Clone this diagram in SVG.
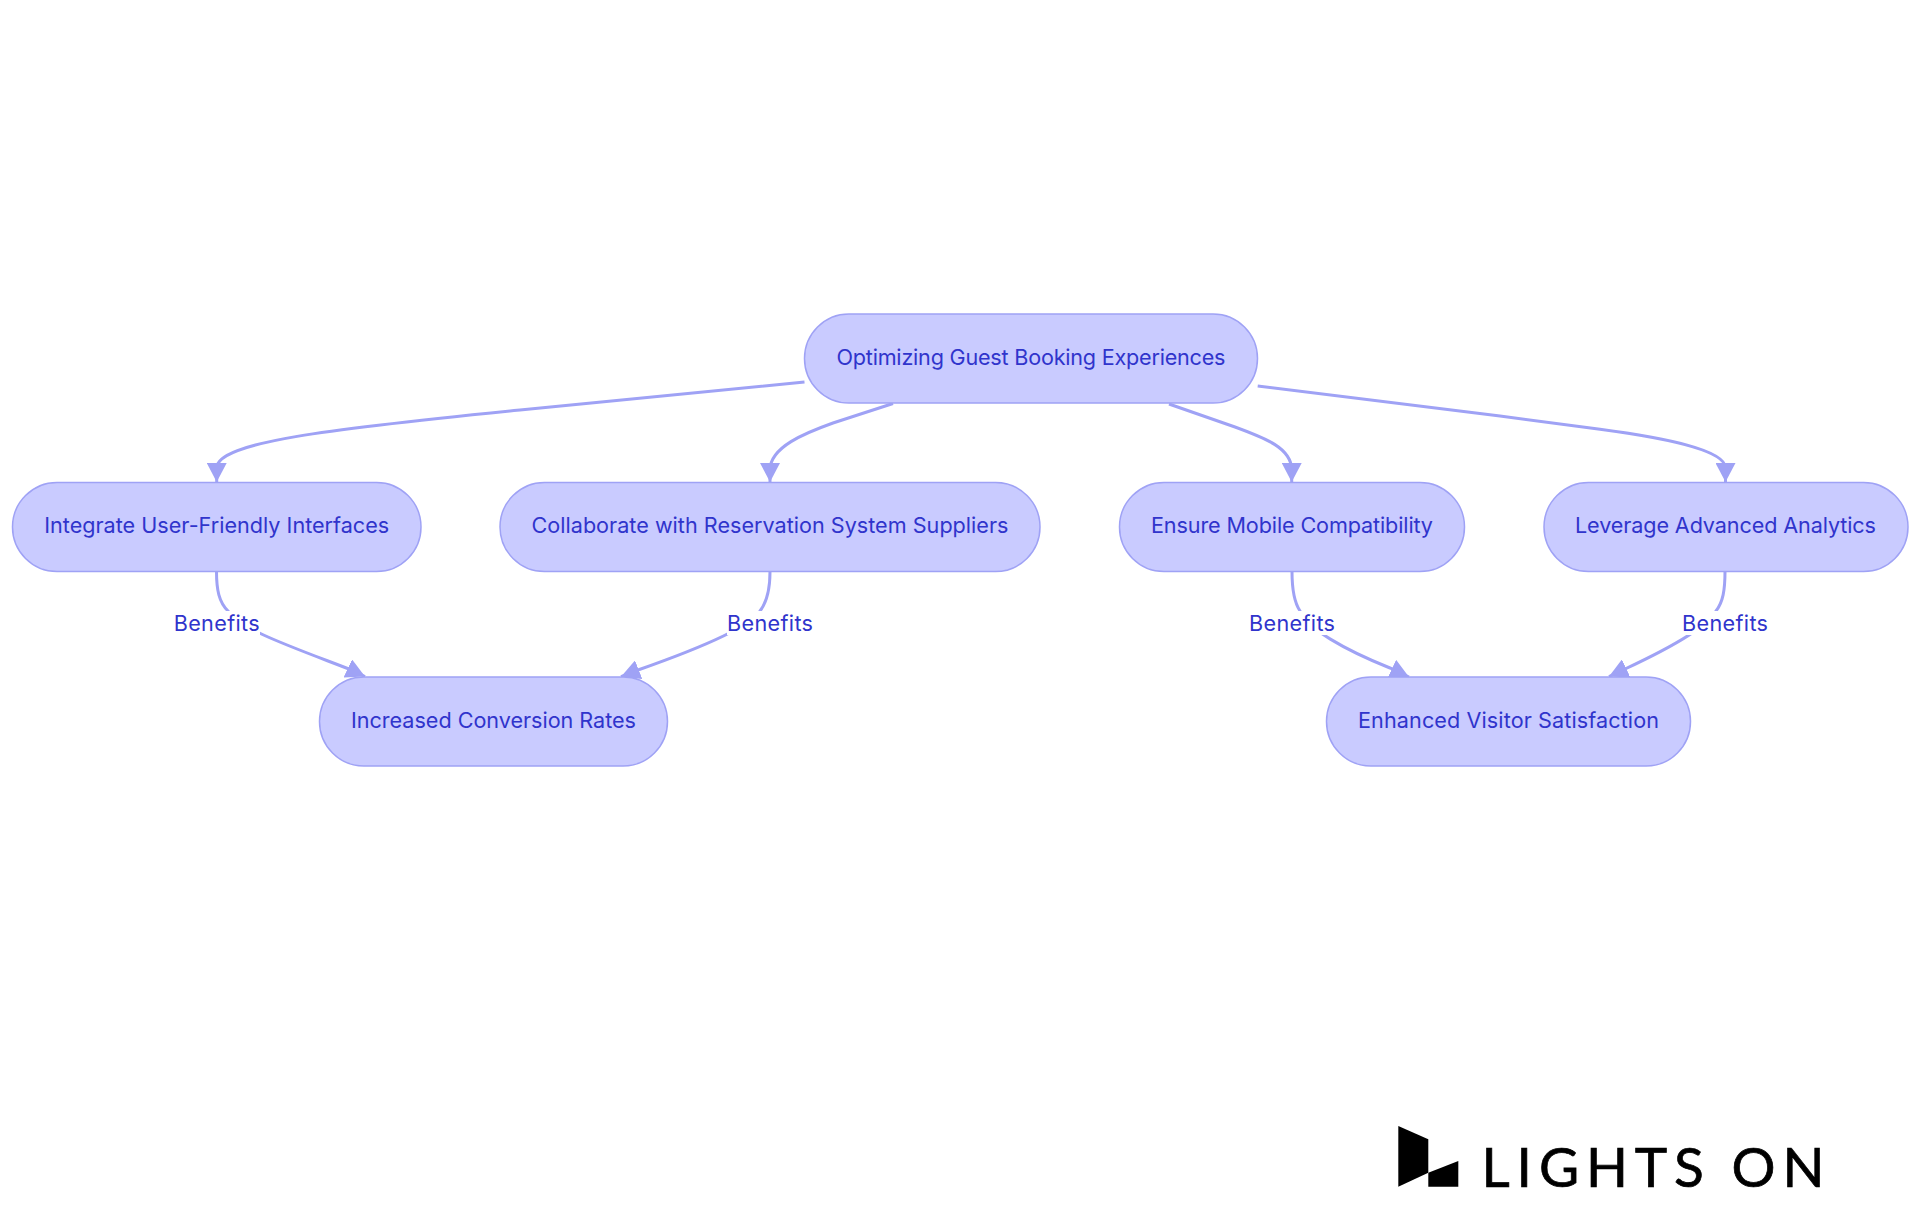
<svg xmlns="http://www.w3.org/2000/svg" width="1920" height="1215" viewBox="0 0 1920 1215">
<style>
.n{fill:#c9cbff;stroke:#9fa2f5;stroke-width:1.5}
.t{font-family:Inter,"Noto Sans",sans-serif;font-size:21.6px;fill:#3034cc;text-anchor:middle;dominant-baseline:central;font-weight:400}
.e{fill:none;stroke:#9fa2f5;stroke-width:3;marker-end:url(#a)}
.lb{fill:#fff}
</style>
<defs><marker id="a" markerUnits="userSpaceOnUse" markerWidth="19" markerHeight="20" refX="19" refY="10" orient="auto" viewBox="0 0 19 20"><path d="M0,0L19,10L0,20z" fill="#9fa2f5"/></marker></defs>
<rect width="1920" height="1215" fill="#fff"/>
<g id="connectors">
<path class="e" d="M804.5,382 L520,410 C330,429 216.7,442 216.7,468 L216.7,482"/>
<path class="e" d="M893,403.5 L833,423 C805,433 770,447 770,470 L770,482"/>
<path class="e" d="M1169,404 L1235,427 C1265,438 1291.7,448 1291.7,470 L1291.7,482"/>
<path class="e" d="M1257.7,386 L1500,416 L1600,429.3 C1665,438 1725.5,450 1725.5,468 L1725.5,482"/>
<path class="e" d="M216.5,571.5 C216.5,590 219,602 228,611 C236,628 300,650 349,669 L365,676.5"/>
<path class="e" d="M770,571.5 C770,590 767,602 760,611 C750,628 695,650 638,670 L621,676.7"/>
<path class="e" d="M1292,571.5 C1292,590 1294,602 1300,611 C1306,628 1345,650 1390,668 L1409,677"/>
<path class="e" d="M1725,571.5 C1725,590 1723,602 1716,611 C1708,627 1670,648 1625,669 L1609,676.5"/>
</g>
<g id="edge-labels">
<rect class="lb" x="174" y="611" width="86" height="24"/><text class="t" x="216.7" y="623" textLength="86">Benefits</text>
<rect class="lb" x="727" y="611" width="86" height="24"/><text class="t" x="770" y="623" textLength="86">Benefits</text>
<rect class="lb" x="1249" y="611" width="86" height="24"/><text class="t" x="1292" y="623" textLength="86">Benefits</text>
<rect class="lb" x="1682" y="611" width="86" height="24"/><text class="t" x="1725" y="623" textLength="86">Benefits</text>
</g>
<g id="root"><rect class="n" x="804.5" y="314" width="453" height="89" rx="44.5"/><text class="t" x="1031" y="357" textLength="389">Optimizing Guest Booking Experiences</text></g>
<g id="n1"><rect class="n" x="12.5" y="482.5" width="408.5" height="89" rx="44.5"/><text class="t" x="216.7" y="525" textLength="345">Integrate User-Friendly Interfaces</text></g>
<g id="n2"><rect class="n" x="500" y="482.5" width="540" height="89" rx="44.5"/><text class="t" x="770" y="525" textLength="477">Collaborate with Reservation System Suppliers</text></g>
<g id="n3"><rect class="n" x="1119.5" y="482.5" width="345" height="89" rx="44.5"/><text class="t" x="1292" y="525" textLength="282">Ensure Mobile Compatibility</text></g>
<g id="n4"><rect class="n" x="1544" y="482.5" width="364" height="89" rx="44.5"/><text class="t" x="1725.5" y="525" textLength="301">Leverage Advanced Analytics</text></g>
<g id="n5"><rect class="n" x="319.5" y="677" width="348" height="89" rx="44.5"/><text class="t" x="493.5" y="720" textLength="285">Increased Conversion Rates</text></g>
<g id="n6"><rect class="n" x="1326.5" y="677" width="364" height="89" rx="44.5"/><text class="t" x="1508.5" y="720" textLength="301">Enhanced Visitor Satisfaction</text></g>
<g id="logo">
<polygon points="1398.3,1126 1428.3,1139.3 1428.3,1172.7 1398.3,1186.7" fill="#000"/>
<polygon points="1428.3,1172.7 1458.3,1161 1458.3,1186.7 1428.3,1186.7" fill="#000"/>
<text x="1481.5" y="1186.7" font-family="Lato,'Open Sans',sans-serif" font-size="55" textLength="343" fill="#000" stroke="#000" stroke-width=".7">LIGHTS ON</text>
</g>
</svg>
